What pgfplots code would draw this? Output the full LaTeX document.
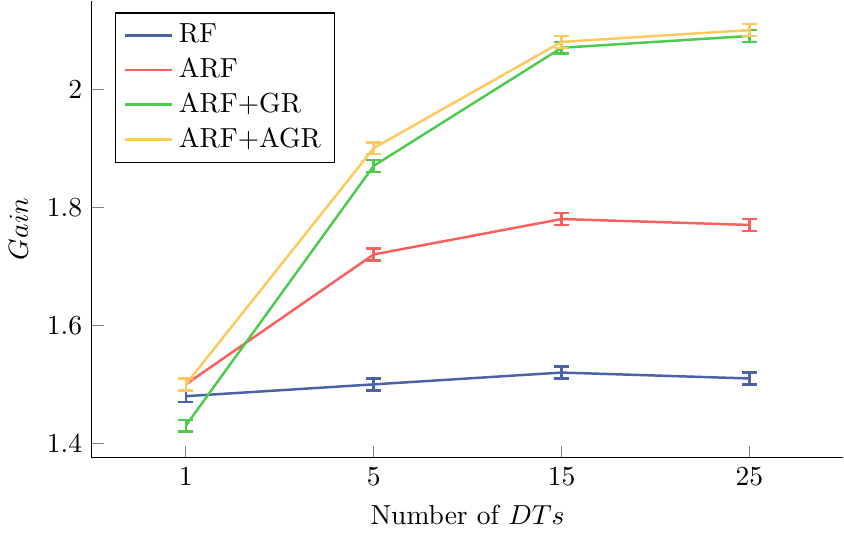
\documentclass[border=0pt]{standalone}
\usepackage{pgfplots}
\pgfplotsset{compat=1.18}
\definecolor{cRF}{HTML}{4A62A8}
\definecolor{cARF}{HTML}{FF5E5E}
\definecolor{cGR}{HTML}{4CCB4C}
\definecolor{cAGR}{HTML}{FFC95E}
\begin{document}
\begin{tikzpicture}
\begin{axis}[
  scale only axis,
  width=273pt, height=166pt,
  axis lines=left,
  axis line style={-},
  xmin=-0.5, xmax=3.5,
  ymin=1.376, ymax=2.15,
  xtick={0,1,2,3},
  xticklabels={1,5,15,25},
  ytick={1.4,1.6,1.8,2.0},
  yticklabels={1.4,1.6,1.8,2},
  tick align=inside,
  xlabel={Number of $DTs$},
  ylabel={$Gain$},
  legend style={at={(0.031,0.974)}, anchor=north west, draw=black, cells={anchor=west}},
  legend cell align=left,
  every axis plot/.append style={line width=0.9pt},
  error bars/error bar style={line width=0.9pt},
  error bars/error mark options={rotate=90, mark size=2.8pt, line width=0.9pt},
]
\addplot[cRF, error bars/.cd, y dir=both, y explicit] coordinates {(0,1.48)+-(0,0.01) (1,1.50)+-(0,0.01) (2,1.52)+-(0,0.01) (3,1.51)+-(0,0.01)};
\addlegendentry{RF}
\addplot[cARF, error bars/.cd, y dir=both, y explicit] coordinates {(0,1.50)+-(0,0.01) (1,1.72)+-(0,0.01) (2,1.78)+-(0,0.01) (3,1.77)+-(0,0.01)};
\addlegendentry{ARF}
\addplot[cGR, error bars/.cd, y dir=both, y explicit] coordinates {(0,1.43)+-(0,0.01) (1,1.87)+-(0,0.01) (2,2.07)+-(0,0.01) (3,2.09)+-(0,0.01)};
\addlegendentry{ARF+GR}
\addplot[cAGR, error bars/.cd, y dir=both, y explicit] coordinates {(0,1.50)+-(0,0.01) (1,1.90)+-(0,0.01) (2,2.08)+-(0,0.01) (3,2.10)+-(0,0.01)};
\addlegendentry{ARF+AGR}
\end{axis}
\end{tikzpicture}
\end{document}
